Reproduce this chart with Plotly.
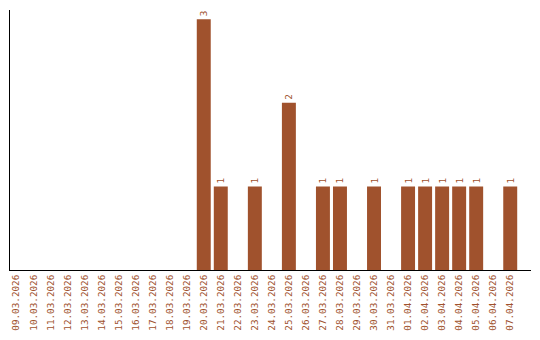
import plotly.graph_objects as go

dates = ["09.03.2026", "10.03.2026", "11.03.2026", "12.03.2026", "13.03.2026",
         "14.03.2026", "15.03.2026", "16.03.2026", "17.03.2026", "18.03.2026",
         "19.03.2026", "20.03.2026", "21.03.2026", "22.03.2026", "23.03.2026",
         "24.03.2026", "25.03.2026", "26.03.2026", "27.03.2026", "28.03.2026",
         "29.03.2026", "30.03.2026", "31.03.2026", "01.04.2026", "02.04.2026",
         "03.04.2026", "04.04.2026", "05.04.2026", "06.04.2026", "07.04.2026"]
counts = [0, 0, 0, 0, 0, 0, 0, 0, 0, 0,
          0, 3, 1, 0, 1, 0, 2, 0, 1, 1,
          0, 1, 0, 1, 1, 1, 1, 1, 0, 1]

COLOR = "#A0522D"
FONT = "DejaVu Sans Mono"

idx = list(range(len(dates)))
texts = [str(v) if v > 0 else "" for v in counts]

fig = go.Figure(go.Bar(
    x=idx, y=counts, marker=dict(color=COLOR, line=dict(width=0)),
    text=texts, textposition="outside", textangle=-90,
    textfont=dict(family=FONT, size=9.3, color=COLOR),
    cliponaxis=False, hoverinfo="skip",
))

fig.update_layout(
    width=540, height=340,
    margin=dict(l=10, r=9, t=10, b=70),
    paper_bgcolor="white", plot_bgcolor="white",
    bargap=0.18, showlegend=False,
    font=dict(family=FONT, size=9.3, color=COLOR),
)
fig.update_xaxes(
    range=[-0.38, 30.22], tickmode="array", tickvals=idx, ticktext=dates,
    tickangle=-90, ticks="", showgrid=False, zeroline=False,
    showline=True, linecolor="black", linewidth=1,
    tickfont=dict(family=FONT, size=9.3, color=COLOR),
)
fig.update_yaxes(
    range=[0, 3.11], showticklabels=False, ticks="", showgrid=False,
    zeroline=False, showline=True, linecolor="black", linewidth=1,
)

fig.write_html("out.html")
